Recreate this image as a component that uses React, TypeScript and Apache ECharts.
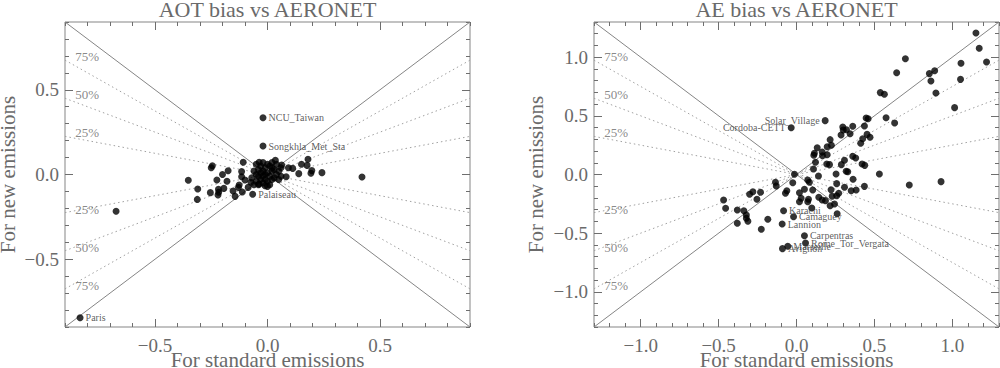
import React, { useEffect, useRef } from "react";
import * as echarts from "echarts";

// ---------- DATA ----------
const aotRange = 0.9;
const aeRange = 1.3;
const aotMajorTicks = [-0.5, 0, 0.5];
const aeMajorTicks = [-1, -0.5, 0, 0.5, 1];
const minorStep = 0.1;
const refSlopes = [0.25, 0.5, 0.75];
const refLabels = ["25%", "50%", "75%"];

const aotTitle = "AOT bias vs AERONET";
const aeTitle = "AE bias vs AERONET";
const xName = "For standard emissions";
const yName = "For new emissions";

// AOT panel: [standard, new]
const aotPoints: number[][] = [
  [-0.352, -0.034], [-0.245, 0.052], [-0.25, 0.04], [-0.2, 0.0], [-0.175, 0.022],
  [-0.225, -0.032], [-0.18, -0.04], [-0.108, 0.072], [-0.115, 0.017], [-0.037, 0.072],
  [0.035, 0.084], [0.093, 0.04], [0.112, 0.036], [0.151, 0.06], [0.176, 0.054],
  [0.18, 0.09], [0.139, 0.005], [0.197, 0.023], [0.193, 0.007], [0.242, 0.011],
  [0.083, -0.013], [0.42, -0.015], [0.063, 0.056],
  [-0.31, -0.086], [-0.312, -0.147], [-0.254, -0.107], [-0.22, -0.121], [-0.217, -0.105],
  [-0.194, -0.082], [-0.153, -0.097], [-0.144, -0.129], [-0.129, -0.076], [-0.112, -0.103],
  [-0.086, -0.076], [-0.037, -0.056], [-0.011, -0.066], [-0.673, -0.217],
  [-0.115, -0.013], [-0.1, -0.032], [-0.074, -0.046], [-0.126, -0.062], [-0.218, -0.087],
  [-0.05, 0.06], [-0.04, 0.03], [-0.03, 0.05], [-0.02, 0.07], [-0.01, 0.04], [0.0, 0.06],
  [0.01, 0.05], [0.02, 0.07], [0.03, 0.03], [0.04, 0.06], [0.05, 0.02], [-0.05, 0.0],
  [-0.04, -0.01], [-0.03, 0.01], [-0.02, 0.02], [-0.01, 0.0], [0.0, 0.01], [0.01, -0.01],
  [0.02, 0.02], [0.03, -0.02], [0.04, 0.0], [0.05, -0.03], [-0.05, -0.04], [-0.04, -0.06],
  [-0.03, -0.03], [-0.02, -0.05], [-0.01, -0.03], [0.0, -0.04], [0.01, -0.06], [0.02, -0.03],
  [-0.06, 0.02], [-0.07, -0.02], [0.06, 0.04], [0.06, -0.01], [-0.06, -0.06], [0.0, -0.07],
  [0.02, 0.04], [-0.02, -0.01],
];
const aotNamedSites = ["NCU_Taiwan", "Songkhla_Met_Sta", "Palaiseau", "Paris"];
const aotNamedValues: number[][] = [
  [-0.02, 0.335], [-0.02, 0.168], [-0.066, -0.117], [-0.833, -0.845],
];

// AE panel: [standard, new]
const aePoints: number[][] = [
  [1.152, 1.206], [1.173, 1.076], [1.22, 0.959], [1.056, 0.948], [1.053, 0.811],
  [0.853, 0.86], [0.887, 0.885], [0.863, 0.797], [0.895, 0.695], [1.015, 0.57],
  [0.699, 0.987], [0.643, 0.868], [0.538, 0.698], [0.564, 0.684], [0.575, 0.484],
  [0.63, 0.439], [0.447, 0.482], [0.46, 0.476], [0.436, 0.413], [0.453, 0.342],
  [0.472, 0.317], [0.425, 0.305], [0.412, 0.266], [0.361, 0.411], [0.344, 0.348],
  [0.321, 0.382], [0.297, 0.405], [0.286, 0.337], [0.3, 0.38], [0.216, 0.297],
  [0.224, 0.249], [0.197, 0.237], [0.133, 0.228], [0.115, 0.181], [0.111, 0.164],
  [0.165, 0.192], [0.167, 0.16], [0.197, 0.169], [0.122, 0.104], [0.109, 0.047],
  [0.194, 0.089], [0.212, 0.084], [0.288, 0.084], [0.308, 0.121], [0.329, 0.024],
  [0.361, 0.155], [0.38, 0.141], [0.421, 0.089], [0.438, 0.078],
  [0.141, -0.013], [0.254, 0.004], [0.258, -0.078], [0.319, 0.027], [0.363, -0.041],
  [0.532, 0.004], [0.928, -0.061], [0.724, -0.09],
  [-0.013, 0.002], [-0.024, -0.07], [-0.135, -0.066], [-0.13, -0.098], [0.072, -0.047],
  [0.083, -0.066],
  [-0.468, -0.217], [-0.455, -0.288], [-0.38, -0.303], [-0.38, -0.416], [-0.338, -0.309],
  [-0.322, -0.345], [-0.322, -0.373], [-0.312, -0.399], [-0.301, -0.169], [-0.28, -0.147],
  [-0.254, -0.211], [-0.231, -0.152], [-0.184, -0.382], [-0.226, -0.467], [-0.071, -0.16],
  [-0.062, -0.138], [0.019, -0.155], [0.03, -0.203], [0.019, -0.232], [0.051, -0.126],
  [0.072, -0.232], [0.104, -0.132], [0.077, -0.211], [0.098, -0.286], [0.143, -0.194],
  [0.165, -0.217], [0.186, -0.223], [0.216, -0.266], [0.244, -0.251], [0.258, -0.181],
  [0.271, -0.16], [0.261, -0.334], [0.229, -0.186], [0.222, -0.13], [0.308, -0.109],
  [0.351, -0.138], [0.383, -0.132], [0.436, -0.101],
];
const aeNamedSites = [
  "Solar_Village", "Cordoba-CETT", "Karachi", "Camaguey", "Lannion",
  "Carpentras", "Rome_Tor_Vergata", "Marseille", "Avignon",
];
const aeNamedValues: number[][] = [
  [0.184, 0.459], [-0.034, 0.399], [-0.083, -0.309], [-0.019, -0.36], [-0.092, -0.422],
  [0.051, -0.522], [0.058, -0.584], [-0.056, -0.612], [-0.09, -0.632],
];
const aeLabelLeft = ["Solar_Village", "Cordoba-CETT"];

// ---------- STYLE ----------
const FONT = "Liberation Serif";
const TEXT_GRAY = "#6a6a6a";
const FRAME = "#858585";
const TICK = "#6e6e6e";
const DOT_GRAY = "#a0a0a0";
const MAJOR_LEN = 8;
const MINOR_LEN = 4;

const fmt = (v: number) => {
  if (Math.abs(v) < 1e-9) return "0.0";
  const s = Math.abs(v).toFixed(1);
  return v < 0 ? "\u2212" + s : s;
};

// Each frame side: one axis for major ticks (custom values) and one for minor ticks
// (interval 0.1, min a multiple of it), all ticks pointing inwards.
function makeAxes(dim: "x" | "y", gridIndex: number, R: number, majors: number[]) {
  const sides = dim === "x" ? ["bottom", "top"] : ["left", "right"];
  const axes: any[] = [];
  sides.forEach((pos, si) => {
    axes.push({
      type: "value",
      gridIndex,
      position: pos,
      min: -R,
      max: R,
      splitLine: { show: false },
      axisLine: { show: false, onZero: false },
      axisTick: {
        show: true,
        inside: true,
        length: MAJOR_LEN,
        customValues: majors,
        lineStyle: { color: TICK, width: 1 },
      },
      axisLabel: {
        show: si === 0,
        customValues: majors,
        formatter: (v: number) => fmt(v),
        fontFamily: FONT,
        fontSize: 19,
        color: TEXT_GRAY,
        margin: dim === "x" ? 9 : 6,
      },
    });
    axes.push({
      type: "value",
      gridIndex,
      position: pos,
      min: -R,
      max: R,
      interval: minorStep,
      splitLine: { show: false },
      axisLine: { show: false, onZero: false },
      axisTick: {
        show: true,
        inside: true,
        length: MINOR_LEN,
        lineStyle: { color: TICK, width: 1 },
      },
      axisLabel: { show: false },
    });
  });
  return axes;
}

function panelSeries(
  xi: number,
  yi: number,
  R: number,
  points: number[][],
  names: string[],
  namedVals: number[][],
  leftNames: string[]
) {
  const s: any[] = [];
  const line = (data: number[][], dotted: boolean) => ({
    type: "line",
    xAxisIndex: xi,
    yAxisIndex: yi,
    data,
    symbol: "none",
    silent: true,
    lineStyle: dotted
      ? { color: DOT_GRAY, width: 1, type: [1.5, 3] }
      : { color: FRAME, width: 1 },
    z: 1,
  });
  s.push(line([[-R, -R], [R, R]], false));
  s.push(line([[-R, R], [R, -R]], false));
  refSlopes.forEach((k) => {
    s.push(line([[-R, -k * R], [R, k * R]], true));
    s.push(line([[-R, k * R], [R, -k * R]], true));
  });
  const labData: any[] = [];
  refSlopes.forEach((k, i) => {
    labData.push({ value: [-0.95 * R, k * R], name: refLabels[i] });
    labData.push({ value: [-0.95 * R, -k * R], name: refLabels[i] });
  });
  s.push({
    type: "scatter",
    xAxisIndex: xi,
    yAxisIndex: yi,
    data: labData,
    symbolSize: 0,
    silent: true,
    label: {
      show: true,
      formatter: "{b}",
      position: [0, 3],
      align: "left",
      verticalAlign: "bottom",
      fontFamily: FONT,
      fontSize: 13,
      color: TEXT_GRAY,
    },
    z: 2,
  });
  s.push({
    type: "scatter",
    xAxisIndex: xi,
    yAxisIndex: yi,
    data: points,
    symbolSize: 7,
    itemStyle: { color: "#000" },
    silent: true,
    z: 5,
  });
  s.push({
    type: "scatter",
    xAxisIndex: xi,
    yAxisIndex: yi,
    data: names.map((n, i) => ({
      name: n,
      value: namedVals[i],
      label: { position: leftNames.includes(n) ? "left" : "right" },
    })),
    symbolSize: 7,
    itemStyle: { color: "#000" },
    silent: true,
    label: {
      show: true,
      formatter: "{b}",
      distance: 2,
      fontFamily: FONT,
      fontSize: 10,
      color: "#333",
    },
    z: 6,
  });
  return s;
}

export default function App() {
  const ref = useRef<HTMLDivElement>(null);
  useEffect(() => {
    if (!ref.current) return;
    const chart = echarts.init(ref.current, undefined, { renderer: "svg", width: 1000, height: 368 });
    const textEl = (t: string, size: number, x: number, y: number, rot = 0) => ({
      type: "text",
      x,
      y,
      rotation: rot,
      silent: true,
      style: {
        text: t,
        font: `${size}px "${FONT}"`,
        fill: TEXT_GRAY,
        align: "center",
        verticalAlign: "middle",
      },
    });
    const option: any = {
      animation: false,
      backgroundColor: "#fff",
      grid: [
        { left: 65, top: 22, width: 405, height: 305, show: true, borderColor: FRAME, borderWidth: 1, backgroundColor: "transparent" },
        { left: 594, top: 22, width: 405, height: 305, show: true, borderColor: FRAME, borderWidth: 1, backgroundColor: "transparent" },
      ],
      xAxis: [
        ...makeAxes("x", 0, aotRange, aotMajorTicks),
        ...makeAxes("x", 1, aeRange, aeMajorTicks),
      ],
      yAxis: [
        ...makeAxes("y", 0, aotRange, aotMajorTicks),
        ...makeAxes("y", 1, aeRange, aeMajorTicks),
      ],
      series: [
        ...panelSeries(0, 0, aotRange, aotPoints, aotNamedSites, aotNamedValues, []),
        ...panelSeries(4, 4, aeRange, aePoints, aeNamedSites, aeNamedValues, aeLabelLeft),
      ],
      graphic: [
        textEl(aotTitle, 22, 267.5, 9),
        textEl(aeTitle, 22, 796.5, 9),
        textEl(xName, 21, 267.5, 360),
        textEl(xName, 21, 796.5, 360),
        textEl(yName, 21, 8, 174.5, Math.PI / 2),
        textEl(yName, 21, 536, 174.5, Math.PI / 2),
      ],
    };
    chart.setOption(option);
    return () => chart.dispose();
  }, []);
  return (
    <div
      ref={ref}
      style={{ position: "absolute", left: 0, top: 0, width: 1000, height: 368, background: "#fff" }}
    />
  );
}
